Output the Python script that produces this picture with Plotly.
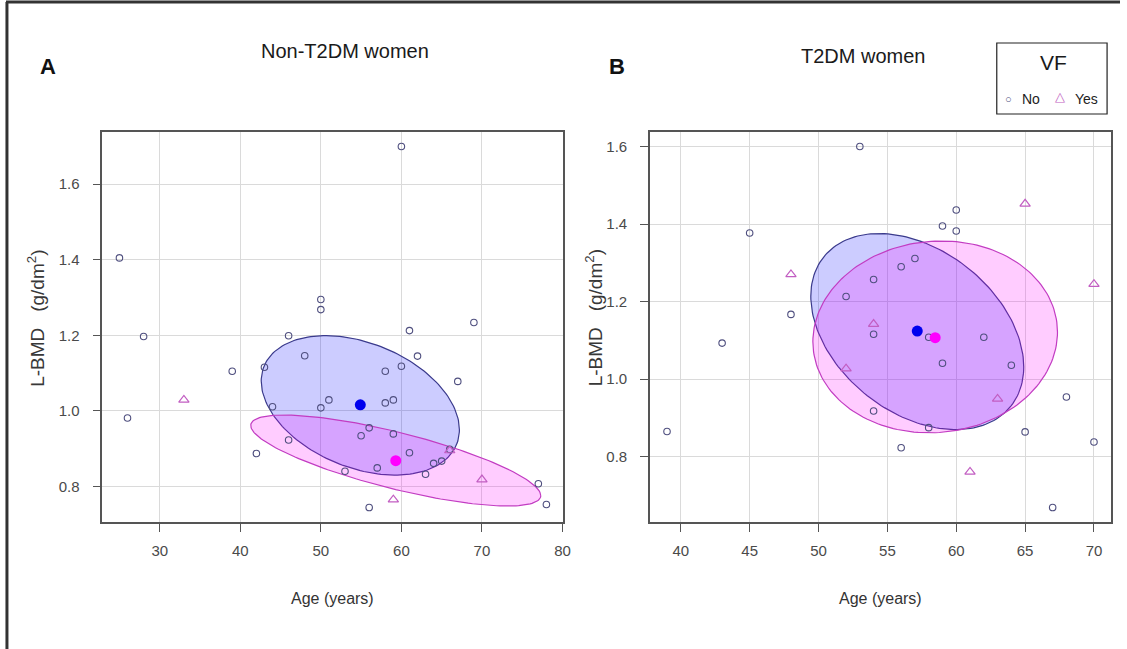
import numpy as np
import plotly.graph_objects as go

# ---------------- data ----------------
# Panel A: Non-T2DM women
a_no_age = [60, 25, 28, 26, 50, 50, 46, 61, 69, 48, 39, 43, 62, 58, 60, 67, 51, 50,
            44, 58, 59, 56, 55, 59, 46, 42, 61, 57, 53, 63, 64, 65, 66, 77, 78, 56]
a_no_bmd = [1.700, 1.405, 1.197, 0.981, 1.295, 1.268, 1.199, 1.2125, 1.234, 1.146,
            1.105, 1.1155, 1.145, 1.105, 1.118, 1.078, 1.029, 1.008, 1.011, 1.021,
            1.029, 0.955, 0.934, 0.939, 0.923, 0.887, 0.889, 0.849, 0.840, 0.832,
            0.861, 0.867, 0.898, 0.807, 0.752, 0.744]
a_yes_age = [33, 59, 70, 66]
a_yes_bmd = [1.029, 0.765, 0.818, 0.895]

# Panel B: T2DM women
b_no_age = [39, 43, 45, 48, 53, 52, 54, 54, 54, 56, 56, 57, 58, 58, 59, 59, 60, 60,
            62, 64, 65, 68, 67, 70]
b_no_bmd = [0.865, 1.093, 1.377, 1.167, 1.600, 1.213, 1.257, 1.116, 0.918, 1.290,
            0.823, 1.311, 1.108, 0.875, 1.395, 1.041, 1.436, 1.382, 1.108, 1.036,
            0.864, 0.954, 0.669, 0.838]
b_yes_age = [48, 54, 52, 63, 61, 65, 70]
b_yes_bmd = [1.270, 1.142, 1.027, 0.949, 0.761, 1.452, 1.245]

# group centroids (No, Yes)
a_center_age = [54.9, 59.3]
a_center_bmd = [1.016, 0.868]
b_center_age = [57.17, 58.47]
b_center_bmd = [1.124, 1.107]

# ellipse shape parameters (No, Yes): half-width (years), half-height (g/dm2), correlation
a_ell_hx = [12.3, 18.0]
a_ell_hy = [0.1845, 0.1205]
a_ell_rho = [-0.35, -0.77]
a_ell_cy = [1.0145, 0.8685]
b_ell_hx = [7.73, 8.88]
b_ell_hy = [0.2527, 0.2474]
b_ell_rho = [-0.36, 0.05]
b_ell_cy = [1.1227, 1.109]

x_ticks_a = [30, 40, 50, 60, 70, 80]
x_ticks_b = [40, 45, 50, 55, 60, 65, 70]
y_ticks = [0.8, 1.0, 1.2, 1.4, 1.6]

# ---------------- styling ----------------
W, H = 1127, 649
C_NO = "#4f4f7f"
C_YES = "#c25ec2"
FONT = "Liberation Sans, Arial, sans-serif"
ELL_FILL = ["rgba(0,0,255,0.2)", "rgba(255,0,255,0.2)"]
ELL_LINE = ["#3a3a8c", "#c23cc2"]
CEN_COL = ["#0000ee", "#ff00ff"]


def px(x):
    return x / W


def py(y):
    return 1 - y / H


def ellipse(cx, cy, hx, hy, rho, n=181):
    t = np.linspace(0, 2 * np.pi, n)
    s = np.sqrt(1 - rho ** 2)
    return cx + hx * np.cos(t), cy + hy * (rho * np.cos(t) + s * np.sin(t))


def padded(vals):
    lo, hi = min(vals), max(vals)
    d = (hi - lo) * 0.04
    return [lo - d, hi + d]


fig = go.Figure()

panels = [
    ("x", "y", a_no_age, a_no_bmd, a_yes_age, a_yes_bmd, a_center_age, a_center_bmd,
     a_ell_hx, a_ell_hy, a_ell_rho, a_ell_cy),
    ("x2", "y2", b_no_age, b_no_bmd, b_yes_age, b_yes_bmd, b_center_age, b_center_bmd,
     b_ell_hx, b_ell_hy, b_ell_rho, b_ell_cy),
]

for xa, ya, nx, ny, yx, yy, cax, cay, hxs, hys, rhos, cys in panels:
    for k in range(2):
        ex, ey = ellipse(cax[k], cys[k], hxs[k], hys[k], rhos[k])
        fig.add_trace(go.Scatter(x=ex, y=ey, xaxis=xa, yaxis=ya, mode="lines",
                                 fill="toself", fillcolor=ELL_FILL[k],
                                 line=dict(color=ELL_LINE[k], width=1.2),
                                 hoverinfo="skip", showlegend=False))
    fig.add_trace(go.Scatter(x=nx, y=ny, xaxis=xa, yaxis=ya, mode="markers",
                             marker=dict(symbol="circle-open", size=6.5,
                                         color=C_NO, line=dict(width=1.1)),
                             name="No", showlegend=False))
    fig.add_trace(go.Scatter(x=yx, y=yy, xaxis=xa, yaxis=ya, mode="markers",
                             marker=dict(symbol="triangle-up-open", size=9,
                                         color=C_YES, line=dict(width=1.2)),
                             name="Yes", showlegend=False))
    fig.add_trace(go.Scatter(x=cax, y=cay, xaxis=xa, yaxis=ya, mode="markers",
                             marker=dict(symbol="circle", size=11, color=CEN_COL),
                             showlegend=False))

axis_common = dict(showgrid=True, gridcolor="#dadada", gridwidth=1,
                   showline=True, linecolor="#555555", linewidth=1.5, mirror=True,
                   ticks="outside", ticklen=8, tickwidth=1.2, tickcolor="#555555",
                   tickfont=dict(family=FONT, size=15, color="#4a4a4a"),
                   zeroline=False)

fig.update_layout(
    width=W, height=H, margin=dict(l=0, r=0, t=0, b=0),
    paper_bgcolor="white", plot_bgcolor="white", showlegend=False,
    xaxis=dict(domain=[px(103), px(567)], anchor="y", range=padded(a_no_age + a_yes_age),
               tickvals=x_ticks_a, ticklabelstandoff=6, **axis_common),
    yaxis=dict(domain=[py(522), py(132)], anchor="x", range=padded(a_no_bmd + a_yes_bmd),
               tickvals=y_ticks, tickformat=".1f", ticklabelstandoff=10, **axis_common),
    xaxis2=dict(domain=[px(654), px(1118)], anchor="y2", range=padded(b_no_age + b_yes_age),
                tickvals=x_ticks_b, ticklabelstandoff=6, **axis_common),
    yaxis2=dict(domain=[py(522), py(132)], anchor="x2", range=padded(b_no_bmd + b_yes_bmd),
                tickvals=y_ticks, tickformat=".1f", ticklabelstandoff=10, **axis_common),
)

ann = []


def add_text(text, x, y, size, bold=False, angle=0, color="#1a1a1a", xanchor="center"):
    ann.append(dict(text=f"<b>{text}</b>" if bold else text, x=px(x), y=py(y),
                    xref="paper", yref="paper", showarrow=False, textangle=angle,
                    xanchor=xanchor, yanchor="middle",
                    font=dict(family=FONT, size=size, color=color)))


add_text("A", 48, 67, 22, bold=True, color="#111111")
add_text("Non-T2DM women", 347, 51, 20)
add_text("B", 621, 67, 22, bold=True, color="#111111")
add_text("T2DM women", 868, 56, 20)
add_text("L-BMD   (g/dm<sup>2</sup>)", 36, 318, 19, angle=-90, color="#383838")
add_text("L-BMD   (g/dm<sup>2</sup>)", 598, 318, 19, angle=-90, color="#383838")
add_text("Age (years)", 335, 598, 16, color="#333333")
add_text("Age (years)", 886, 598, 16, color="#333333")

# legend (manual)
add_text("VF", 1060, 63, 21)
add_text("○", 1015, 99, 11, color=C_NO)
add_text("No", 1026, 99, 14, xanchor="left", color="#222222")
add_text("△", 1067, 97, 13, color=C_YES)
add_text("Yes", 1080, 99, 14, xanchor="left", color="#222222")

fig.update_layout(annotations=ann)

shapes = [
    dict(type="rect", xref="paper", yref="paper", x0=px(1003), x1=px(1114),
         y0=py(114), y1=py(43), line=dict(color="#222222", width=1.2)),
    dict(type="line", xref="paper", yref="paper", x0=px(6), x1=1, y0=py(2), y1=py(2),
         line=dict(color="#333333", width=3)),
    dict(type="line", xref="paper", yref="paper", x0=px(7), x1=px(7), y0=0, y1=py(2),
         line=dict(color="#333333", width=3)),
]
fig.update_layout(shapes=shapes)

fig.write_html("out.html", config={"displayModeBar": False},
               post_script="document.body.style.margin='0';document.body.style.overflow='hidden';")
